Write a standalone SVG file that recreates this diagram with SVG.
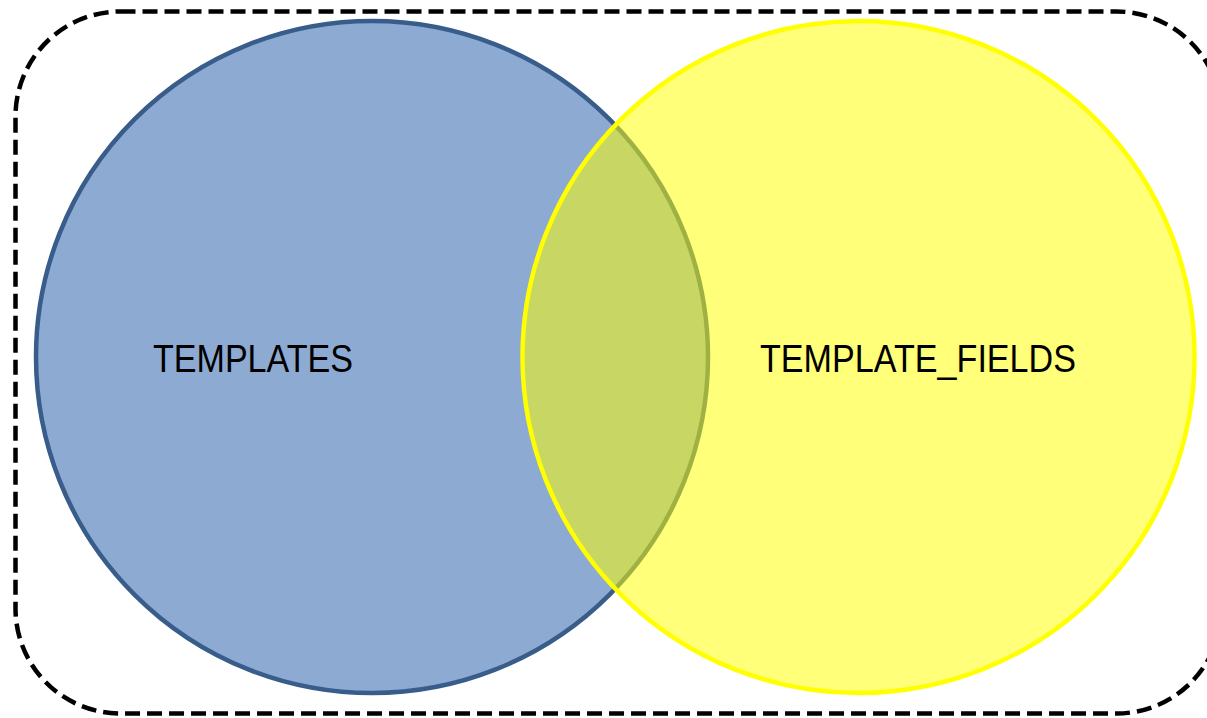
<svg xmlns="http://www.w3.org/2000/svg" width="1207" height="718" viewBox="0 0 1207 718">
  <style>
    .lbl { font-family: "Liberation Sans", Arial, sans-serif; font-size: 38px; fill: #000; }
  </style>
  <rect x="0" y="0" width="1207" height="718" fill="#fff"/>
  <g id="boundary">
    <rect x="15.5" y="11.5" width="1206" height="702" rx="105" ry="105" fill="none" stroke="#000" stroke-width="4.5" stroke-dasharray="15 7"/>
  </g>
  <g id="templates">
    <circle cx="372" cy="357" r="336" fill="#8DAAD2" stroke="#385D8A" stroke-width="4.5"/>
    <text class="lbl" x="153" y="372" textLength="200" lengthAdjust="spacingAndGlyphs">TEMPLATES</text>
  </g>
  <g id="template_fields">
    <circle cx="858.5" cy="357" r="336" fill="#FFFF00" fill-opacity="0.52" stroke="#FFFF00" stroke-width="4.5"/>
    <text class="lbl" x="760" y="372" textLength="316" lengthAdjust="spacingAndGlyphs">TEMPLATE_FIELDS</text>
  </g>
  <g id="connectors"></g>
</svg>
